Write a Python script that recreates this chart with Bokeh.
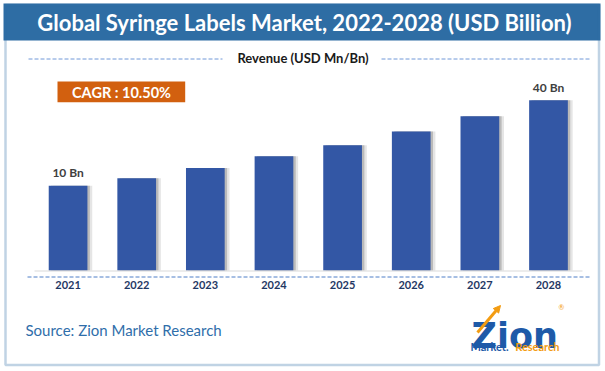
from bokeh.plotting import figure
from bokeh.models import (ColumnDataSource, FactorRange, Range1d, Label, BoxAnnotation,
                          Arrow, NormalHead)
from bokeh.core.properties import value
from bokeh.transform import dodge
from bokeh.embed import file_html
from bokeh.resources import INLINE

# ---------------- data ----------------
years = ["2021", "2022", "2023", "2024", "2025", "2026", "2027", "2028"]
revenue = [10.0, 10.9, 12.1, 13.5, 14.8, 16.4, 18.2, 20.1]
value_labels = ["10 Bn", "", "", "", "", "", "", "40 Bn"]
title_text = "Global Syringe Labels Market, 2022-2028 (USD Billion)"
subtitle_text = "Revenue (USD Mn/Bn)"
cagr_text = "CAGR : 10.50%"
source_text = "Source: Zion Market Research"

# ---------------- style ----------------
W, H = 605, 371
BLUE = "#2E6DA4"
BAR = "#3357A5"
ORANGE = "#D2600F"
FONT = "Lato"
SHIFT = 0.077  # horizontal offset of the category slots inside the frame

src = ColumnDataSource(dict(year=years, revenue=revenue, label=value_labels))

p = figure(width=W, height=H,
           x_range=FactorRange(*years, range_padding=0.4077, range_padding_units="absolute"),
           y_range=Range1d(-11.924, 31.877),
           output_backend="svg", toolbar_location=None,
           x_axis_location=None, y_axis_location=None,
           min_border=0, min_border_left=0, min_border_right=0,
           min_border_top=0, min_border_bottom=0)
p.outline_line_color = None
p.background_fill_color = "white"
p.border_fill_color = "white"
p.grid.grid_line_color = None

xpos = dodge("year", SHIFT, range=p.x_range)

# title band and outer frame
p.add_layout(BoxAnnotation(left=3, right=600, top=3, bottom=40, left_units="canvas",
                           right_units="canvas", top_units="canvas", bottom_units="canvas",
                           fill_color=BLUE, fill_alpha=1, line_color=None))
p.add_layout(BoxAnnotation(left=5, right=598.5, top=4.5, bottom=364.5, left_units="canvas",
                           right_units="canvas", top_units="canvas", bottom_units="canvas",
                           fill_alpha=0, line_color=BLUE, line_width=2.5))

# baseline
p.add_layout(Arrow(end=None, x_start=34, y_start=270.5, x_end=582, y_end=270.5,
                   start_units="canvas", end_units="canvas",
                   line_color="#D9D9D9", line_width=1.2))

# bar shadows + bars
p.vbar(x=dodge("year", SHIFT + 0.07, range=p.x_range), top="revenue", width=0.564, source=src,
       fill_color="#d4d4d4", fill_alpha=0.6, line_color=None)
p.vbar(x=dodge("year", SHIFT + 0.035, range=p.x_range), top="revenue", width=0.564, source=src,
       fill_color="#9c9c9c", fill_alpha=0.6, line_color=None)
p.vbar(x=xpos, top="revenue", width=0.564, source=src, fill_color=BAR, line_color=None)

# value labels
p.text(x=xpos, y="revenue", text="label", source=src, y_offset=-13,
       text_align="center", text_baseline="middle", text_font=value(FONT),
       text_font_size="12px", text_font_style="bold", text_color="#404040")

# category labels
p.text(x=xpos, y=0, text="year", source=src, y_offset=14,
       text_align="center", text_baseline="middle", text_font=value(FONT),
       text_font_size="11px", text_font_style="bold", text_color="#1F3864")

# title
p.add_layout(Label(x=304, y=22, x_units="canvas", y_units="canvas", text=title_text,
                   text_align="center", text_baseline="middle", text_font=FONT,
                   text_font_size="22px", text_font_style="bold", text_color="white"))

# subtitle with dashed rules
for xs, xe in [(28, 222), (381, 590)]:
    p.add_layout(Arrow(end=None, x_start=xs, y_start=58.5, x_end=xe, y_end=58.5,
                       start_units="canvas", end_units="canvas",
                       line_color="#7098D8", line_width=1, line_dash="4 2"))
p.add_layout(Label(x=302.5, y=57, x_units="canvas", y_units="canvas", text=subtitle_text,
                   text_align="center", text_baseline="middle", text_font=FONT,
                   text_font_size="13px", text_font_style="bold", text_color="#1a1a1a"))

# dashed rule under the bars
p.add_layout(Arrow(end=None, x_start=27, y_start=276.5, x_end=590, y_end=276.5,
                   start_units="canvas", end_units="canvas",
                   line_color="#4F7FC7", line_width=1, line_dash="4 2"))

# CAGR badge
p.add_layout(BoxAnnotation(left=57, right=184.7, top=81, bottom=101.7, left_units="canvas",
                           right_units="canvas", top_units="canvas", bottom_units="canvas",
                           fill_color=ORANGE, fill_alpha=1, line_color=None))
p.add_layout(Label(x=121, y=91.5, x_units="canvas", y_units="canvas", text=cagr_text,
                   text_align="center", text_baseline="middle", text_font=FONT,
                   text_font_size="14.5px", text_font_style="bold", text_color="white"))

# source
p.add_layout(Label(x=25, y=329, x_units="canvas", y_units="canvas", text=source_text,
                   text_align="left", text_baseline="middle", text_font=FONT,
                   text_font_size="15px", text_color="#2F6EAA"))

# logo
p.add_layout(Label(x=471, y=335, x_units="canvas", y_units="canvas", text="Zion",
                   text_align="left", text_baseline="alphabetic", text_font="DejaVu Sans",
                   text_font_size="35px", text_font_style="bold", text_color="#1E5AA8"))
p.add_layout(Arrow(end=NormalHead(size=7, fill_color="#F39C12", line_color="#F39C12"),
                   x_start=477, y_start=332, x_end=500, y_end=305,
                   start_units="canvas", end_units="canvas",
                   line_color="#F39C12", line_width=3))
p.add_layout(Label(x=561, y=306, x_units="canvas", y_units="canvas", text="®",
                   text_align="center", text_baseline="middle", text_font=FONT,
                   text_font_size="7px", text_color="#F39C12"))
p.add_layout(Label(x=470, y=346, x_units="canvas", y_units="canvas", text="Market.",
                   text_align="left", text_baseline="alphabetic", text_font=FONT,
                   text_font_size="11px", text_font_style="bold", text_color="#1E5AA8"))
p.add_layout(Label(x=559, y=346, x_units="canvas", y_units="canvas", text="Research",
                   text_align="right", text_baseline="alphabetic", text_font=FONT,
                   text_font_size="11px", text_font_style="bold", text_color="#F39C12"))

open("out.html", "w").write(file_html(p, INLINE))
